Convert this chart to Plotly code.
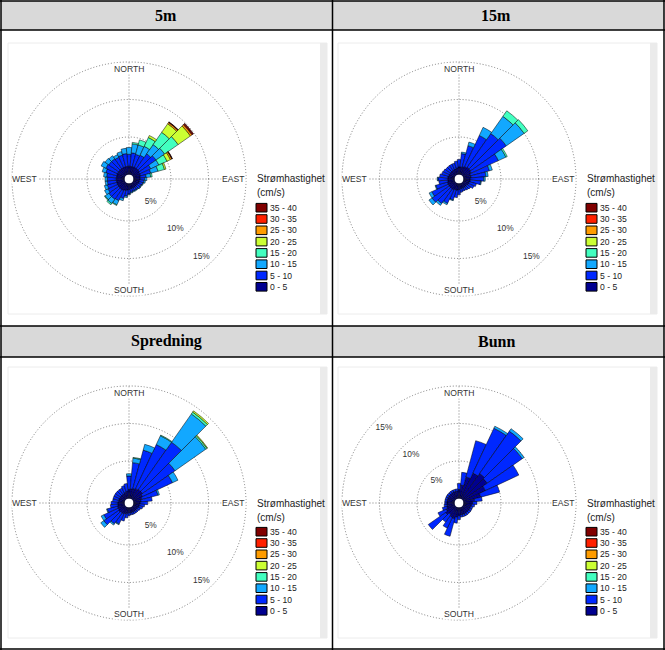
"""
Strømrose (current rose) for four depths, laid out as a 2x2 table.
Output: out.html
"""

import math

import plotly.graph_objects as go

W, H = 665, 650

DIRECTIONS = list(range(0, 360, 10))
SPEED_CLASSES = ["0 - 5", "5 - 10", "10 - 15", "15 - 20",
                 "20 - 25", "25 - 30", "30 - 35", "35 - 40"]
CLASS_COLORS = ["#000090", "#0028ff", "#12a8ff", "#42ffc0",
                "#ccff33", "#ff9c00", "#ff2000", "#800000"]

PANEL_TITLES = ["5m", "15m", "Spredning", "Bunn"]
RING_VALUES = [5, 10, 15]
RING_LABELS = ["5%", "10%", "15%"]
COMPASS_LABELS = ["NORTH", "EAST", "SOUTH", "WEST"]
COMPASS_THETA = [0, 90, 180, 270]

# ── Frequency (% of time) per direction, one list per speed class ─────────────

# 5m
M5_0_5 = [1.1, 1.1, 1.1, 1.1, 1.1, 1.1, 1.0, 1.0, 0.9, 0.9, 0.8, 0.8,
          0.7, 0.7, 0.7, 0.7, 0.7, 0.7, 0.8, 0.9, 1.0, 1.1, 1.1, 1.1,
          1.1, 1.1, 1.1, 1.1, 1.1, 1.1, 1.1, 1.1, 1.1, 1.1, 1.1, 1.1]
M5_5_10 = [1.6, 1.8, 1.7, 1.8, 2.4, 2.7, 1.6, 1.4, 0.8, 0.6, 0.6, 0.5,
           0.5, 0.5, 0.4, 0.4, 0.4, 0.5, 0.6, 0.8, 1.1, 1.5, 1.6, 1.6,
           1.4, 1.3, 1.2, 1.2, 1.3, 1.5, 1.7, 1.6, 1.6, 1.5, 1.6, 1.7]
M5_10_15 = [0.9, 1.2, 1.3, 1.3, 1.5, 1.4, 1.2, 1.0, 0.6, 0.3, 0.2, 0.1,
            0.1, 0.1, 0.1, 0.1, 0.1, 0.1, 0.1, 0.2, 0.3, 0.6, 0.7, 0.6,
            0.5, 0.4, 0.3, 0.3, 0.4, 0.5, 0.7, 0.6, 0.5, 0.4, 0.5, 0.7]
M5_15_20 = [0, 0.2, 0.7, 1.3, 2.0, 2.2, 1.2, 0.9, 0.2, 0, 0, 0,
            0, 0, 0, 0, 0, 0, 0, 0, 0, 0.1, 0.2, 0.1,
            0, 0, 0, 0, 0, 0, 0, 0, 0, 0, 0, 0]
M5_20_25 = [0, 0, 0, 0.3, 1.4, 2.0, 0.5, 0.2, 0, 0, 0, 0,
            0, 0, 0, 0, 0, 0, 0, 0, 0, 0, 0, 0,
            0, 0, 0, 0, 0, 0, 0, 0, 0, 0, 0, 0]
M5_25_30 = [0, 0, 0, 0, 0.2, 0.25, 0.2, 0, 0, 0, 0, 0,
            0, 0, 0, 0, 0, 0, 0, 0, 0, 0, 0, 0,
            0, 0, 0, 0, 0, 0, 0, 0, 0, 0, 0, 0]
M5_30_35 = [0, 0, 0, 0, 0.05, 0.1, 0.05, 0, 0, 0, 0, 0,
            0, 0, 0, 0, 0, 0, 0, 0, 0, 0, 0, 0,
            0, 0, 0, 0, 0, 0, 0, 0, 0, 0, 0, 0]
M5_35_40 = [0, 0, 0, 0, 0.05, 0.15, 0.05, 0, 0, 0, 0, 0,
            0, 0, 0, 0, 0, 0, 0, 0, 0, 0, 0, 0,
            0, 0, 0, 0, 0, 0, 0, 0, 0, 0, 0, 0]

# 15m
M15_0_5 = [1.0, 1.0, 1.1, 1.2, 1.3, 1.3, 1.2, 1.0, 1.0, 0.9, 0.9, 0.8,
           0.8, 0.7, 0.7, 0.7, 0.7, 0.7, 0.8, 0.9, 0.9, 1.0, 1.0, 1.0,
           1.0, 1.0, 0.9, 0.9, 0.9, 0.8, 0.8, 0.8, 0.8, 0.8, 0.8, 0.9]
M15_5_10 = [1.0, 1.8, 2.9, 4.6, 5.5, 5.8, 4.0, 2.6, 2.0, 1.8, 1.4, 1.0,
            0.8, 0.6, 0.5, 0.4, 0.4, 0.5, 0.7, 1.0, 1.4, 2.0, 2.4, 2.8,
            2.4, 1.6, 1.2, 1.3, 1.1, 1.0, 0.9, 0.8, 0.8, 0.8, 0.8, 0.9]
M15_10_15 = [0, 0.2, 0.5, 1.2, 2.8, 2.9, 1.1, 0.4, 0.3, 0.2, 0.1, 0,
             0, 0, 0, 0, 0, 0, 0, 0, 0.1, 0.2, 0.3, 0.5,
             0.4, 0.1, 0, 0.1, 0, 0, 0, 0, 0, 0, 0, 0]
M15_15_20 = [0, 0, 0, 0, 0.9, 0.6, 0.2, 0, 0, 0, 0, 0,
             0, 0, 0, 0, 0, 0, 0, 0, 0, 0, 0, 0,
             0, 0, 0, 0, 0, 0, 0, 0, 0, 0, 0, 0]

# Spredning
SP_0_5 = [1.2, 1.3, 1.4, 1.5, 1.6, 1.6, 1.4, 1.2, 1.0, 0.9, 0.8, 0.8,
          0.7, 0.7, 0.7, 0.7, 0.7, 0.7, 0.7, 0.8, 0.9, 1.0, 1.0, 1.1,
          1.0, 1.0, 0.9, 0.9, 0.8, 0.8, 0.8, 0.8, 0.8, 0.8, 0.9, 1.0]
SP_5_10 = [1.8, 3.5, 5.3, 6.5, 7.7, 5.3, 4.4, 2.2, 1.5, 1.0, 0.7, 0.5,
           0.4, 0.3, 0.3, 0.3, 0.3, 0.3, 0.4, 0.6, 1.0, 1.5, 1.8, 2.4,
           2.1, 1.4, 1.0, 0.9, 0.8, 0.8, 0.8, 0.8, 0.8, 0.8, 0.9, 1.0]
SP_10_15 = [0.3, 0.6, 0.8, 1.3, 4.6, 5.0, 0.8, 0.2, 0, 0, 0, 0,
            0, 0, 0, 0, 0, 0, 0, 0, 0, 0.1, 0.2, 0.5,
            0.4, 0.1, 0, 0, 0, 0, 0, 0, 0, 0, 0, 0]
SP_15_20 = [0, 0.1, 0, 0.1, 0.3, 0.2, 0, 0, 0, 0, 0, 0,
            0, 0, 0, 0, 0, 0, 0, 0, 0, 0, 0, 0,
            0, 0, 0, 0, 0, 0, 0, 0, 0, 0, 0, 0]
SP_20_25 = [0, 0, 0, 0, 0.2, 0.1, 0, 0, 0, 0, 0, 0,
            0, 0, 0, 0, 0, 0, 0, 0, 0, 0, 0, 0,
            0, 0, 0, 0, 0, 0, 0, 0, 0, 0, 0, 0]

# Bunn
BU_0_5 = [1.2, 1.8, 3.0, 3.8, 4.2, 4.0, 3.3, 2.4, 1.5, 1.2, 1.1, 1.0,
          1.0, 1.0, 1.0, 1.0, 1.0, 1.0, 1.1, 1.3, 1.6, 1.5, 1.3, 1.6,
          1.3, 1.1, 1.0, 1.0, 1.0, 1.0, 1.0, 1.0, 1.0, 1.0, 1.0, 1.0]
BU_5_10 = [0.8, 1.7, 5.0, 6.6, 6.9, 5.7, 4.9, 2.6, 1.0, 0.6, 0.4, 0.3,
           0.3, 0.3, 0.3, 0.3, 0.3, 0.3, 0.5, 0.8, 2.4, 1.6, 1.2, 2.8,
           1.2, 0.6, 0.4, 0.3, 0.3, 0.3, 0.3, 0.3, 0.3, 0.3, 0.3, 0.3]
BU_10_15 = [0, 0, 0, 0.3, 0.4, 0.3, 0, 0, 0, 0, 0, 0,
            0, 0, 0, 0, 0, 0, 0, 0, 0, 0, 0, 0,
            0, 0, 0, 0, 0, 0, 0, 0, 0, 0, 0, 0]

PANEL_DATA = [
    [M5_0_5, M5_5_10, M5_10_15, M5_15_20, M5_20_25, M5_25_30, M5_30_35, M5_35_40],
    [M15_0_5, M15_5_10, M15_10_15, M15_15_20],
    [SP_0_5, SP_5_10, SP_10_15, SP_15_20, SP_20_25],
    [BU_0_5, BU_5_10, BU_10_15],
]

# label placement (radial units) and bearing of the % labels per panel
COMPASS_R = [14.1, 13.3, 14.2, 13.3]
RING_LABEL_R = [3.65, 8.45, 13.55]
RING_LABEL_THETA = [137, 137, 137, 315]

# ── Layout geometry (pixels) ──────────────────────────────────────────────────
COL_OFF = [0, 330, 0, 330]
ROW_OFF = [0, 0, 324, 324]
CENTER = (129, 179)
OUTER_R = 118.5
HOLE = 0.038
R_MAX = 15.2
FONT = "Liberation Sans"
GRID = dict(gridcolor="#7a7a7a", griddash="1px,2px", gridwidth=1)


def fx(x):
    return x / W


def fy(y):
    return 1 - y / H


def polar_cfg(cx, cy):
    return dict(
        domain=dict(x=[fx(cx - OUTER_R), fx(cx + OUTER_R)],
                    y=[fy(cy + OUTER_R), fy(cy - OUTER_R)]),
        hole=HOLE, bgcolor="white", barmode="stack",
        radialaxis=dict(range=[0, R_MAX], tickvals=RING_VALUES, showticklabels=False,
                        ticks="", showline=False, **GRID),
        angularaxis=dict(rotation=90, direction="clockwise", tickmode="array",
                         tickvals=COMPASS_THETA, showticklabels=False, ticks="",
                         showline=False, **GRID),
    )


def polar_to_px(cx, cy, r, bearing):
    rp = OUTER_R * HOLE + OUTER_R * (1 - HOLE) * r / R_MAX
    b = math.radians(bearing)
    return cx + rp * math.sin(b), cy - rp * math.cos(b)


fig = go.Figure()
shapes, annotations, layout_polars = [], [], {}

# table frame
LINE = dict(color="black", width=1.5)
for y0, y1 in [(1, 30), (326, 357)]:
    shapes.append(dict(type="rect", xref="paper", yref="paper",
                       x0=fx(1), x1=fx(664), y0=fy(y1), y1=fy(y0),
                       fillcolor="#d9d9d9", line=dict(width=0), layer="below"))
for y in [1, 30, 326, 357, 649]:
    shapes.append(dict(type="line", xref="paper", yref="paper",
                       x0=fx(0), x1=fx(665), y0=fy(y), y1=fy(y), line=LINE))
for x in [1, 332.5, 664]:
    shapes.append(dict(type="line", xref="paper", yref="paper",
                       x0=fx(x), x1=fx(x), y0=fy(0), y1=fy(650), line=LINE))

for i, title in enumerate(PANEL_TITLES):
    ox, oy = COL_OFF[i], ROW_OFF[i]
    cx, cy = CENTER[0] + ox, CENTER[1] + oy
    sp = "polar" if i == 0 else f"polar{i + 1}"
    layout_polars[sp] = polar_cfg(cx, cy)

    # header
    annotations.append(dict(
        x=fx(166 + ox), y=fy(15.5 + (oy + 2 if oy else 0)), xref="paper", yref="paper",
        text=f"<b>{title}</b>", showarrow=False, xanchor="center", yanchor="middle",
        font=dict(family="Liberation Serif", size=16, color="black")))

    # plot area frame with grey strip at right
    shapes.append(dict(type="rect", xref="paper", yref="paper",
                       x0=fx(8 + ox), x1=fx(327 + ox), y0=fy(314 + oy), y1=fy(43 + oy),
                       line=dict(color="#ececec", width=1), layer="below"))
    shapes.append(dict(type="rect", xref="paper", yref="paper",
                       x0=fx(320 + ox), x1=fx(327 + ox), y0=fy(314 + oy), y1=fy(43 + oy),
                       fillcolor="#ebebeb", line=dict(width=0), layer="below"))

    # bars
    for k, values in enumerate(PANEL_DATA[i]):
        fig.add_trace(go.Barpolar(
            r=values, theta=DIRECTIONS, width=10, subplot=sp,
            name=SPEED_CLASSES[k], showlegend=False,
            marker=dict(color=CLASS_COLORS[k], line=dict(color="black", width=0.5)),
            hovertemplate="%{theta}°: %{r}%<extra>" + SPEED_CLASSES[k] + "</extra>",
        ))

    # compass labels (white box over the dotted spokes)
    for label, theta, r in zip(COMPASS_LABELS, COMPASS_THETA, COMPASS_R):
        px, py = polar_to_px(cx, cy, r, theta)
        annotations.append(dict(x=fx(px), y=fy(py), xref="paper", yref="paper",
                                text=label, showarrow=False, bgcolor="white",
                                borderpad=0, xanchor="center", yanchor="middle",
                                font=dict(family=FONT, size=8.6, color="#333333")))

    # ring labels
    fig.add_trace(go.Scatterpolar(
        r=RING_LABEL_R, theta=[RING_LABEL_THETA[i]] * 3, text=RING_LABELS, mode="text",
        subplot=sp, showlegend=False, hoverinfo="skip", cliponaxis=False,
        textfont=dict(family=FONT, size=8.4, color="#333333")))

    # legend (key)
    lx = 256 + ox
    annotations.append(dict(x=fx(lx - 1), y=fy(179 + oy), xref="paper", yref="paper",
                            text="Strømhastighet", showarrow=False, xanchor="left",
                            yanchor="middle", font=dict(family=FONT, size=10, color="#222")))
    annotations.append(dict(x=fx(lx - 1), y=fy(193 + oy), xref="paper", yref="paper",
                            text="(cm/s)", showarrow=False, xanchor="left",
                            yanchor="middle", font=dict(family=FONT, size=10, color="#222")))
    for j, k in enumerate(range(len(SPEED_CLASSES) - 1, -1, -1)):
        ly = 207.7 + j * 11.3 + oy
        shapes.append(dict(type="rect", xref="paper", yref="paper",
                           x0=fx(lx), x1=fx(lx + 11), y0=fy(ly + 4.3), y1=fy(ly - 4.3),
                           fillcolor=CLASS_COLORS[k], line=dict(color="black", width=1)))
        annotations.append(dict(x=fx(lx + 12), y=fy(ly), xref="paper", yref="paper",
                                text=SPEED_CLASSES[k], showarrow=False, xanchor="left",
                                yanchor="middle",
                                font=dict(family=FONT, size=8.6, color="#222")))

fig.update_layout(
    width=W, height=H, margin=dict(l=0, r=0, t=0, b=0),
    paper_bgcolor="white", plot_bgcolor="white",
    shapes=shapes, annotations=annotations, showlegend=False,
    **layout_polars,
)

# the page's default 8px body margin would push the 665x650 figure off-window
fig.write_html("out.html", config={"displayModeBar": False},
               post_script="document.body.style.margin='0';")
